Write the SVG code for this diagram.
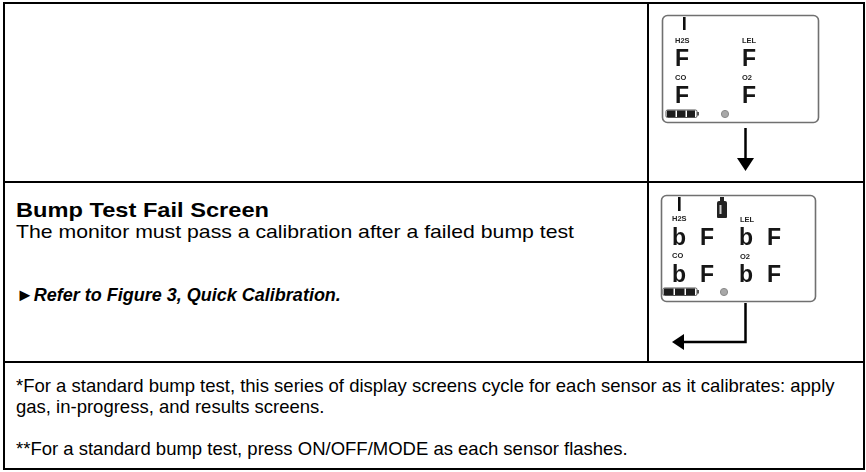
<svg xmlns="http://www.w3.org/2000/svg" width="866" height="472" viewBox="0 0 866 472">
  <style>
    .frame { fill: none; stroke: #000; stroke-width: 2; }
    .lcd { fill: #fff; stroke: #707070; stroke-width: 1.6; }
    .seg { font-family: "Liberation Sans", Arial, sans-serif; font-weight: bold; font-size: 23px; fill: #151515; }
    .tag { font-family: "Liberation Sans Narrow", "Liberation Sans", Arial, sans-serif; font-weight: bold; font-size: 7.5px; fill: #222; }
    .title { font-family: "Liberation Sans", Arial, sans-serif; font-weight: bold; font-size: 21px; fill: #000; }
    .body { font-family: "Liberation Sans", Arial, sans-serif; font-size: 19px; fill: #000; }
    .link { font-family: "Liberation Sans", Arial, sans-serif; font-weight: bold; font-style: italic; font-size: 18px; fill: #000; }
    .note { font-family: "Liberation Sans", Arial, sans-serif; font-size: 18.5px; fill: #000; }
    .wire { fill: none; stroke: #000; stroke-width: 2.5; }
    .head { fill: #000; }
    .batt { fill: #1a1a1a; }
    .sun { fill: #a8a8a8; stroke: #8a8a8a; stroke-width: 1; }
  </style>
  <defs>
    <filter id="soft" x="-5%" y="-5%" width="110%" height="110%">
      <feGaussianBlur stdDeviation="0.45"/>
    </filter>
  </defs>

  <rect width="866" height="472" fill="#fff"/>

  <!-- table frame -->
  <g id="table">
    <rect class="frame" x="4" y="3" width="860" height="466"/>
    <line class="frame" x1="4" y1="182" x2="864" y2="182"/>
    <line class="frame" x1="4" y1="362" x2="864" y2="362"/>
    <line class="frame" x1="648" y1="3" x2="648" y2="362"/>
  </g>

  <!-- display: all sensors failed -->
  <g id="screen-fail" filter="url(#soft)">
    <rect class="lcd" x="662.5" y="15.5" width="156" height="107" rx="5"/>
    <rect x="683" y="17" width="2.6" height="13" fill="#111"/>
    <text class="tag" x="675" y="42.5">H2S</text>
    <text class="seg" x="675" y="65.5">F</text>
    <text class="tag" x="675" y="79.8">CO</text>
    <text class="seg" x="675" y="102.5">F</text>
    <text class="tag" x="742" y="42.5">LEL</text>
    <text class="seg" x="742" y="65.5">F</text>
    <text class="tag" x="742" y="79.8">O2</text>
    <text class="seg" x="742" y="102.5">F</text>
    <g>
      <rect x="666" y="110" width="31" height="7.5" rx="1.5" fill="none" stroke="#555" stroke-width="1"/>
      <rect class="batt" x="667" y="110.5" width="8.5" height="6.5"/>
      <rect class="batt" x="677" y="110.5" width="8.5" height="6.5"/>
      <rect class="batt" x="687" y="110.5" width="8" height="6.5"/>
      <rect x="697" y="112" width="2" height="3.5" fill="#555"/>
    </g>
    <circle class="sun" cx="725" cy="114" r="3.6"/>
  </g>

  <!-- display: bump test failed -->
  <g id="screen-bump-fail" filter="url(#soft)">
    <rect class="lcd" x="661.5" y="195.5" width="154" height="106" rx="5"/>
    <rect x="678" y="197" width="2.6" height="14" fill="#111"/>
    <g id="gas-bottle">
      <rect x="720" y="197" width="4" height="4" fill="#222"/>
      <path d="M717 203 Q717 201 719 201 L725 201 Q727 201 727 203 L727 217 Q727 218 726 218 L718 218 Q717 218 717 217 Z" fill="#222"/>
      <rect x="719.5" y="205" width="2" height="9" fill="#ccc"/>
    </g>
    <text class="tag" x="672" y="221">H2S</text>
    <text class="seg" x="672" y="245">b</text>
    <text class="seg" x="700" y="245">F</text>
    <text class="tag" x="672" y="258">CO</text>
    <text class="seg" x="672" y="282">b</text>
    <text class="seg" x="700" y="282">F</text>
    <text class="tag" x="740" y="222">LEL</text>
    <text class="seg" x="739" y="245">b</text>
    <text class="seg" x="767" y="245">F</text>
    <text class="tag" x="740" y="259">O2</text>
    <text class="seg" x="739" y="282">b</text>
    <text class="seg" x="767" y="282">F</text>
    <g>
      <rect x="663" y="288" width="34" height="7.5" rx="1.5" fill="none" stroke="#555" stroke-width="1"/>
      <rect class="batt" x="664" y="288.5" width="9.5" height="6.5"/>
      <rect class="batt" x="675" y="288.5" width="9.5" height="6.5"/>
      <rect class="batt" x="686" y="288.5" width="9" height="6.5"/>
      <rect x="697" y="290" width="2" height="3.5" fill="#555"/>
    </g>
    <circle class="sun" cx="724" cy="292" r="3.6"/>
  </g>

  <!-- description cell -->
  <g id="fail-text">
    <text class="title" x="16" y="217" textLength="253" lengthAdjust="spacingAndGlyphs">Bump Test Fail Screen</text>
    <text class="body" x="16" y="238" textLength="558" lengthAdjust="spacingAndGlyphs">The monitor must pass a calibration after a failed bump test</text>
    <text class="link" x="16" y="301">►Refer to Figure 3, Quick Calibration.</text>
  </g>

  <!-- footnotes -->
  <g id="notes">
    <text class="note" x="16" y="392">*For a standard bump test, this series of display screens cycle for each sensor as it calibrates: apply</text>
    <text class="note" x="16" y="413">gas, in-progress, and results screens.</text>
    <text class="note" x="16" y="455">**For a standard bump test, press ON/OFF/MODE as each sensor flashes.</text>
  </g>

  <!-- flow arrows -->
  <g id="connectors">
    <line class="wire" x1="745.5" y1="128" x2="745.5" y2="160"/>
    <polygon class="head" points="737,158 754,158 745.5,171"/>
    <polyline class="wire" points="745.5,303 745.5,342 682,342"/>
    <polygon class="head" points="672,342 684,334 684,350"/>
  </g>
</svg>
